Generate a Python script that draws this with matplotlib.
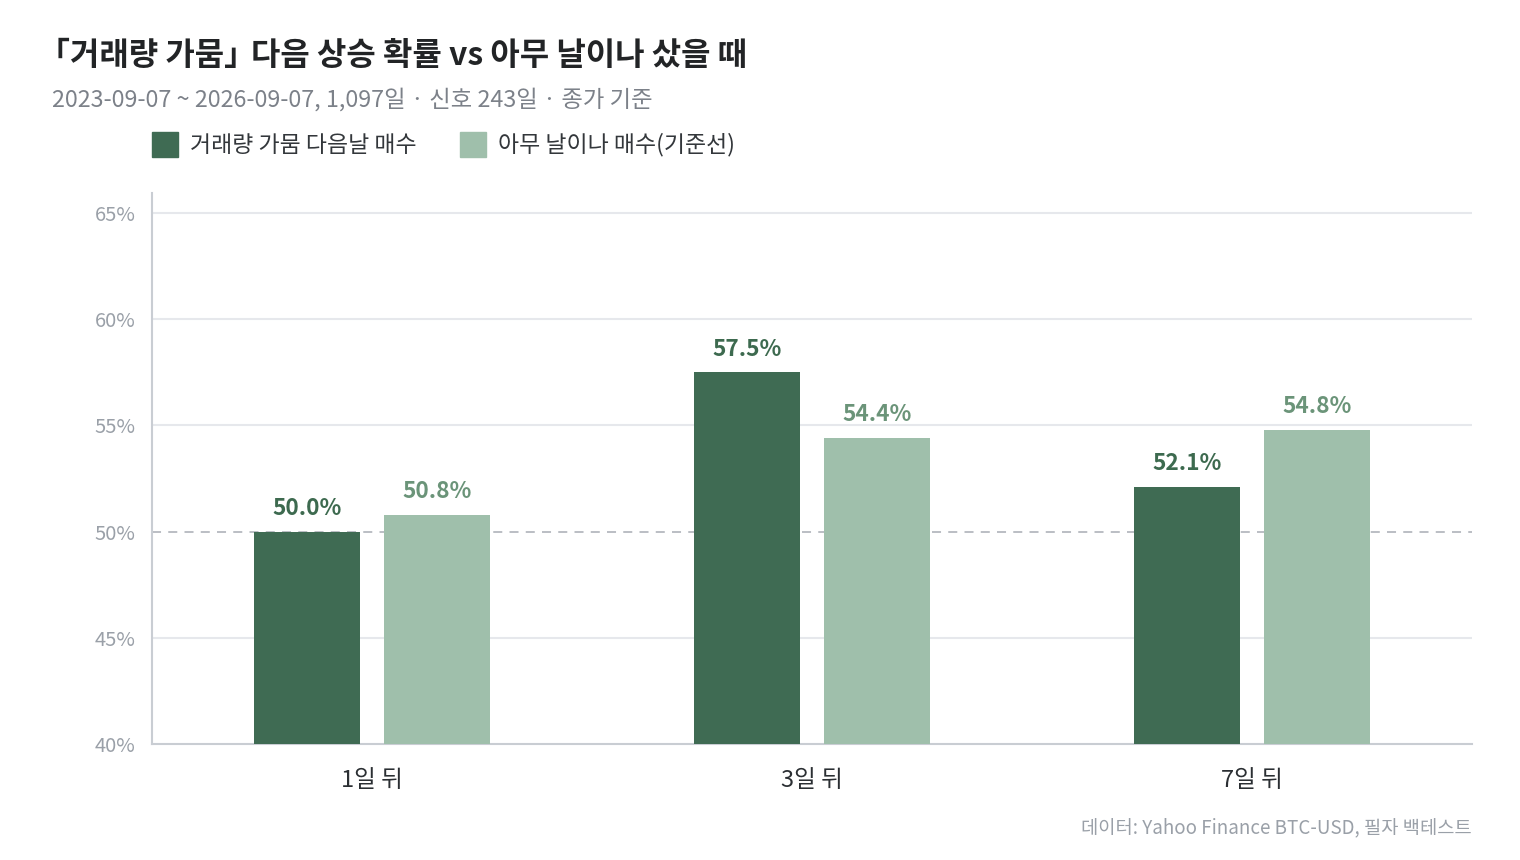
import matplotlib
matplotlib.use('Agg')
import matplotlib.pyplot as plt
from matplotlib.patches import Rectangle
import numpy as np

plt.rcParams['font.family'] = ['Noto Sans CJK KR', 'DejaVu Sans']

horizons = ['1일 뒤', '3일 뒤', '7일 뒤']
signal_rate = [50.0, 57.5, 52.1]
baseline_rate = [50.8, 54.4, 54.8]
series_names = ['거래량 가뭄 다음날 매수', '아무 날이나 매수(기준선)']
yticks = [40, 45, 50, 55, 60, 65]

# the CJK corner brackets are full width in Noto, so the title goes in two pieces
title_parts = ['「거래량 가뭄」', '다음 상승 확률 vs 아무 날이나 샀을 때']
subtitle = '2023-09-07 ~ 2026-09-07, 1,097일 · 신호 243일 · 종가 기준'
source = '데이터: Yahoo Finance BTC-USD, 필자 백테스트'

dark = '#3f6b53'
light = '#9fbfab'
dark_txt = '#3d6a4f'
light_txt = '#6b9479'
grid_c = '#e6e8ec'
spine_c = '#c9cdd3'
tick_c = '#9aa0a8'

fig = plt.figure(figsize=(15.2, 8.6), dpi=100)
ax = fig.add_axes([152 / 1520, 1 - 744 / 860, 1320 / 1520, 551 / 860])

x = np.arange(len(horizons))
width = 0.24
off = 0.148

b1 = ax.bar(x - off, signal_rate, width, color=dark, zorder=3)
b2 = ax.bar(x + off, baseline_rate, width, color=light, zorder=3)

for bars, vals, col in [(b1, signal_rate, dark_txt), (b2, baseline_rate, light_txt)]:
    for bar, v in zip(bars, vals):
        ax.text(bar.get_x() + bar.get_width() / 2, v + 0.55, f'{v:.1f}%',
                ha='center', va='bottom', fontsize=16.3, color=col, fontweight='bold')

ax.set_xlim(-0.5, 2.5)
ax.set_ylim(40, 65.94)
ax.set_yticks(yticks)
ax.set_yticklabels([f'{t}%' for t in yticks])
for t in yticks[1:]:
    if t == 50:
        ax.axhline(t, color='#b5b9bf', lw=1.3, ls=(0, (5, 4)), zorder=2)
    else:
        ax.axhline(t, color=grid_c, lw=1.5, zorder=1)

ax.set_xticks(x)
ax.set_xticklabels(horizons, fontsize=17, color='#2b2f33')
ax.tick_params(axis='x', length=0, pad=18)
ax.tick_params(axis='y', length=0, pad=12, labelsize=14.5, labelcolor=tick_c)

for s in ['top', 'right']:
    ax.spines[s].set_visible(False)
for s in ['left', 'bottom']:
    ax.spines[s].set_color(spine_c)
    ax.spines[s].set_linewidth(1.5)

# title
renderer = fig.canvas.get_renderer()
title_y = 1 - 56 / 860
t1 = fig.text(38 / 1520, title_y, title_parts[0], fontsize=23, fontweight='bold',
              color='#222426', va='center', ha='left')
bb = t1.get_window_extent(renderer)
fig.text((bb.x1 - 5) / 1520, title_y, title_parts[1], fontsize=23, fontweight='bold',
         color='#222426', va='center', ha='left')

fig.text(52 / 1520, 1 - 100 / 860, subtitle, fontsize=16.8, color='#7c8189',
         va='center', ha='left')

# legend
for sx, tx, col, name in [(152, 190, dark, series_names[0]),
                          (460, 498, light, series_names[1])]:
    fig.patches.append(Rectangle((sx / 1520, 1 - 157 / 860), 26 / 1520, 25 / 860,
                                 transform=fig.transFigure, color=col))
    fig.text(tx / 1520, 1 - 145 / 860, name, fontsize=16.5, color='#33373b',
             va='center', ha='left')

fig.text(1472 / 1520, 1 - 828 / 860, source, fontsize=13.5, color=tick_c,
         va='center', ha='right')

fig.savefig('out.png', dpi=100, facecolor='white')
